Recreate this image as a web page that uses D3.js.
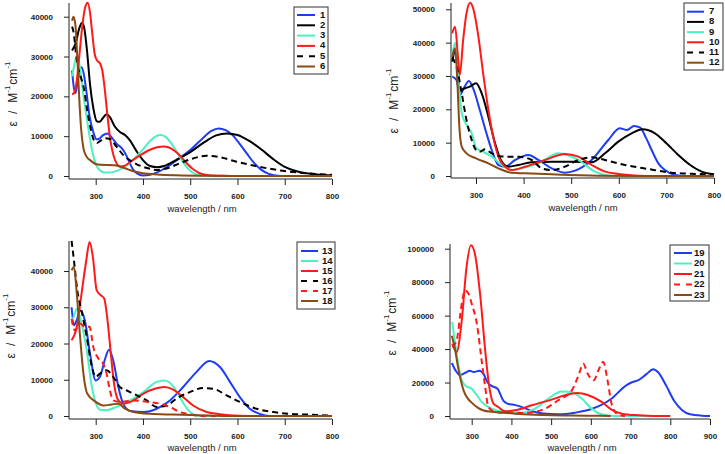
<!DOCTYPE html>
<html><head><meta charset="utf-8">
<script src="https://cdn.jsdelivr.net/npm/d3@7/dist/d3.min.js"></script>
<style>body{margin:0;background:#fff} svg{display:block;font-family:"Liberation Sans",Arial,sans-serif}</style>
</head><body><svg id="c" width="725" height="454"></svg>
<script>
// ---------- tick values ----------
const xTicksA = [300,400,500,600,700,800];
const xTicksB = [300,400,500,600,700,800,900];
const yTicks1 = [0,10000,20000,30000,40000];
const yTicks2 = [0,10000,20000,30000,40000,50000];
const yTicks3 = [0,10000,20000,30000,40000];
const yTicks4 = [0,20000,40000,60000,80000,100000];

// ---------- series: [wavelength nm, epsilon] ----------
const c1 = [[250,26500],[254,22000],[257,20800],[261,23000],[266,26500],[270,27300],[275,25500],[280,21500],[287,15000],[295,11000],[302,9200],[308,9400],[315,10200],[325,10700],[335,9500],[345,8000],[355,7000],[362,5800],[370,3800],[378,1800],[388,600],[400,150],[415,300],[430,900],[450,2200],[475,4300],[500,6500],[525,9300],[545,11300],[560,11900],[575,11500],[590,10200],[605,8000],[620,5600],[635,3300],[650,1600],[665,600],[680,150],[700,0],[800,0]];
const c2 = [[250,31500],[258,33500],[265,37000],[271,38500],[276,37000],[282,31000],[288,23000],[295,17000],[302,13800],[308,13600],[315,14500],[323,15500],[330,14800],[340,12500],[352,11000],[362,10300],[372,9000],[385,6500],[400,4000],[415,2500],[430,2200],[445,2500],[470,4000],[500,6000],[530,8500],[555,10200],[578,10700],[600,10300],[625,8800],[650,6700],[675,4300],[700,2300],[725,1200],[750,600],[775,300],[800,150]];
const c3 = [[250,25000],[255,28000],[261,30300],[267,27000],[273,21000],[280,15500],[287,10000],[294,5500],[300,3000],[308,1500],[318,900],[330,900],[345,1300],[360,2200],[380,4200],[400,6700],[415,8800],[428,10000],[437,10300],[447,9900],[460,8200],[475,5400],[490,2600],[503,1000],[515,300],[530,50],[550,0],[800,0]];
const c4 = [[250,20500],[255,21000],[260,24000],[266,31000],[272,38000],[278,42500],[283,43500],[288,41000],[293,35500],[298,30500],[303,29000],[309,28300],[314,26500],[319,22000],[325,15000],[331,9000],[338,5000],[345,3000],[352,2400],[360,2500],[375,3700],[395,5300],[415,6600],[430,7200],[445,7400],[460,6900],[475,5500],[490,3500],[505,1800],[520,700],[540,200],[570,50],[600,0],[800,0]];
const c5 = [[250,37500],[254,35500],[258,31000],[263,27000],[268,25000],[275,22000],[282,16500],[290,11500],[297,8800],[303,8300],[312,9000],[320,9500],[330,9300],[344,7400],[358,5300],[372,4000],[386,3000],[400,2300],[415,1800],[429,1500],[450,1900],[478,3200],[506,4400],[534,5100],[563,4700],[598,3600],[647,2300],[696,1300],[746,700],[800,300]];
const c6 = [[250,39000],[253,40000],[257,38000],[261,30000],[265,20000],[269,12000],[274,7000],[280,5000],[290,3800],[300,3000],[310,2800],[340,2700],[360,2000],[380,1200],[400,700],[430,400],[470,200],[550,50],[600,0],[800,0]];

const c7 = [[250,29800],[259,28800],[266,24300],[275,26500],[285,28500],[294,26300],[308,19800],[322,12800],[333,7800],[347,3300],[361,2800],[382,4800],[410,6300],[431,4800],[459,2300],[487,1000],[508,1600],[543,4800],[578,10800],[602,14300],[617,13800],[632,15000],[645,14500],[657,11500],[669,7800],[683,3800],[697,1800],[718,300],[739,0],[800,0]];
const c8 = [[250,34300],[257,37800],[262,31000],[266,25800],[277,26300],[287,26800],[300,27800],[312,24800],[326,17800],[340,9800],[354,4300],[368,2800],[389,3300],[417,4100],[459,4300],[501,4300],[543,4100],[571,6800],[599,10300],[627,12800],[650,14000],[676,12800],[700,9800],[725,6300],[750,3300],[774,1300],[800,500]];
const c9 = [[250,36000],[256,40000],[261,33000],[266,24000],[270,18800],[280,15300],[291,12800],[301,8300],[315,7300],[333,5800],[350,3800],[375,1800],[396,2300],[431,3800],[473,6800],[515,4800],[550,1300],[571,300],[590,0],[800,0]];
const c10 = [[250,42800],[256,44800],[262,36000],[266,30300],[273,40800],[280,48800],[288,52000],[294,50300],[305,41800],[315,30800],[326,19800],[336,11800],[347,5800],[361,2800],[375,1800],[403,2800],[445,4800],[487,6600],[515,5800],[543,3300],[571,1300],[599,600],[641,100],[680,0],[800,0]];
const c11 = [[250,35500],[259,32800],[270,24800],[280,16800],[291,10800],[300,7800],[308,7300],[319,8000],[333,6800],[361,5800],[389,5800],[417,4800],[438,2300],[459,1800],[487,2800],[515,4800],[543,5600],[571,4800],[613,3300],[662,2100],[711,1000],[767,600],[800,400]];
const c12 = [[250,35800],[256,38300],[261,27800],[265,14800],[270,8800],[280,6800],[300,5300],[326,3800],[347,2300],[375,1000],[403,800],[459,500],[557,100],[650,0],[800,0]];

const c13 = [[249,30000],[254,25000],[260,26500],[267,29100],[277,26400],[288,17200],[300,9800],[309,10800],[320,15800],[328,18300],[337,15400],[348,8000],[358,3400],[373,1400],[401,1100],[429,2000],[457,4300],[485,8000],[513,12100],[540,15200],[563,13500],[584,9400],[605,5200],[626,2000],[647,600],[668,0],[800,0]];
const c14 = [[249,25500],[255,28000],[260,29600],[270,25500],[281,18100],[292,8000],[302,2900],[309,1700],[323,1600],[344,2500],[373,4300],[401,6600],[429,9400],[446,9800],[464,8200],[482,4300],[496,1600],[506,500],[520,0],[800,0]];
const c15 = [[249,20900],[260,24600],[270,33700],[280,42900],[287,48000],[294,43900],[302,34700],[311,33300],[318,32400],[325,26400],[332,17200],[339,8700],[348,4300],[358,3400],[380,4300],[401,6200],[425,7500],[445,8000],[464,7300],[485,5200],[506,2900],[535,1100],[563,500],[605,100],[650,0],[800,0]];
const c16 = [[249,48300],[254,42900],[261,34700],[270,29100],[281,21800],[292,13500],[300,10800],[309,11700],[323,12600],[337,10800],[351,8000],[365,7100],[387,5700],[408,4300],[429,2500],[450,2900],[471,4800],[499,6600],[527,7700],[549,7500],[577,5700],[605,3900],[640,2000],[675,1100],[711,600],[746,400],[800,100]];
const c17 = [[249,26800],[256,23600],[267,25500],[277,24600],[287,24600],[295,19000],[306,15800],[316,14400],[323,11700],[330,7100],[337,4300],[351,3900],[380,4300],[408,3900],[436,3400],[457,2500],[478,1100],[499,500],[520,0],[600,0]];
const c18 = [[249,40200],[254,41100],[260,33700],[267,21800],[274,11700],[282,6200],[300,3900],[316,2900],[334,3200],[348,3400],[362,2000],[380,1100],[415,600],[464,400],[520,200],[591,0],[800,0]];

const c19 = [[250,31700],[260,27000],[270,24500],[285,26000],[295,27000],[305,26300],[320,27000],[330,25000],[340,20000],[350,18000],[365,16300],[380,9000],[390,7400],[410,6500],[430,5000],[450,3000],[480,1500],[520,1000],[560,2000],[600,4000],[650,10000],[690,18500],[705,20300],[720,21500],[740,25000],[757,28000],[770,26000],[790,18000],[810,9000],[830,3500],[850,1000],[880,200],[900,0]];
const c20 = [[251,56200],[262,37200],[275,21300],[287,17700],[300,16300],[313,12400],[325,8400],[350,4400],[384,2400],[426,2000],[459,4400],[493,10400],[527,14700],[552,14300],[577,10400],[602,4400],[627,1000],[661,0],[800,0]];
const c21 = [[251,43200],[262,38200],[275,57200],[287,89000],[298,102000],[308,97000],[321,73100],[334,39200],[342,21300],[355,7400],[367,5400],[384,2800],[409,3400],[451,6400],[501,9800],[535,12400],[565,13700],[594,12400],[627,8400],[652,3800],[678,1400],[720,400],[760,0],[800,0]];
const c22 = [[251,41200],[262,45200],[275,67100],[283,75100],[292,73100],[300,67100],[313,55200],[325,33300],[334,17300],[342,5400],[359,2400],[392,2000],[434,1800],[459,2400],[485,4400],[518,9400],[552,15300],[569,24300],[581,31300],[592,25300],[607,21300],[619,27300],[631,32300],[642,21300],[652,7400],[665,1400],[686,0]];
const c23 = [[250,48000],[258,40000],[265,30000],[272,22000],[280,15000],[290,10500],[300,8000],[315,5000],[330,3300],[350,2500],[380,2000],[420,1200],[480,600],[550,300],[620,100],[650,0]];

// ---------- drawing ----------
const BLUE="#1f3cf5", BLACK="#000000", TEAL="#4df0c0", RED="#ff1a1a", BROWN="#8b4a14";
const svg = d3.select("#c");
const FONT = '"Liberation Sans",Arial,sans-serif';

const panels = [
  {series:[["1",c1,BLUE,null],["2",c2,BLACK,null],["3",c3,TEAL,null],["4",c4,RED,null],["5",c5,BLACK,"6,4"],["6",c6,BROWN,null]],
   xd:[300,800], xr:[95.7,332], axL:69, axR:332, yd:[0,40000], yr:[176,16.7], yTop:3, axY:179, yt:yTicks1, xt:xTicksA,
   ytx:14, yty:94, xtx:202, xty:209, lg:{x:294,y:7,w:34,h:67,l0:297,l1:315,tx:320,r0:15,dr:10.3}},
  {series:[["7",c7,BLUE,null],["8",c8,BLACK,null],["9",c9,TEAL,null],["10",c10,RED,null],["11",c11,BLACK,"6,4"],["12",c12,BROWN,null]],
   xd:[300,800], xr:[476,714], axL:451, axR:714, yd:[0,50000], yr:[176,9.3], yTop:3, axY:178, yt:yTicks2, xt:xTicksA,
   ytx:395, yty:101, xtx:583, xty:208, lg:{x:684,y:3,w:39,h:67,l0:687,l1:704,tx:709,r0:11.7,dr:10.2}},
  {series:[["13",c13,BLUE,null],["14",c14,TEAL,null],["15",c15,RED,null],["16",c16,BLACK,"6,4"],["17",c17,RED,"6,4"],["18",c18,BROWN,null]],
   xd:[300,800], xr:[95.7,332], axL:69, axR:332, yd:[0,40000], yr:[416,271], yTop:241, axY:419, yt:yTicks3, xt:xTicksA,
   ytx:12, yty:326, xtx:202, xty:448, lg:{x:297,y:242,w:38,h:67,l0:301,l1:318,tx:322,r0:251,dr:10}},
  {series:[["19",c19,BLUE,null],["20",c20,TEAL,null],["21",c21,RED,null],["22",c22,RED,"6,4"],["23",c23,BROWN,null]],
   xd:[300,900], xr:[471.7,710], axL:450, axR:710, yd:[0,100000], yr:[416,248.7], yTop:244, axY:419, yt:yTicks4, xt:xTicksB,
   ytx:393, yty:323, xtx:582, xty:448, lg:{x:670,y:245,w:39,h:56,l0:674,l1:692,tx:694,r0:253,dr:10.5}}
];

panels.forEach(p => {
  const x = d3.scaleLinear().domain(p.xd).range(p.xr);
  const y = d3.scaleLinear().domain(p.yd).range(p.yr);
  const g = svg.append("g");

  g.append("line").attr("x1",p.axL).attr("x2",p.axL).attr("y1",p.yTop).attr("y2",p.axY).attr("stroke","#222").attr("stroke-width",1);
  g.append("line").attr("x1",p.axL).attr("x2",p.axR).attr("y1",p.axY).attr("y2",p.axY).attr("stroke","#222").attr("stroke-width",1);

  const ya = d3.axisLeft(y).tickValues(p.yt).tickSize(5).tickPadding(11).tickFormat(d3.format("d"));
  const yg = g.append("g").attr("transform",`translate(${p.axL},0)`).call(ya);
  yg.select(".domain").remove();
  yg.selectAll("line").attr("stroke","#222");
  yg.selectAll("text").attr("font-size","8px").attr("font-weight","bold").attr("font-family",FONT).attr("fill","#222");

  const xa = d3.axisBottom(x).tickValues(p.xt).tickSize(6).tickPadding(8).tickFormat(d3.format("d"));
  const xg = g.append("g").attr("transform",`translate(0,${p.axY})`).call(xa);
  xg.select(".domain").remove();
  xg.selectAll("line").attr("stroke","#222");
  xg.selectAll("text").attr("font-size","8px").attr("font-weight","bold").attr("font-family",FONT).attr("fill","#222");

  g.append("text").attr("x",p.xtx).attr("y",p.xty).attr("text-anchor","middle").attr("dominant-baseline","middle")
    .attr("font-size","9.5px").attr("font-family",FONT).attr("fill","#222").text("wavelength / nm");

  const yt = g.append("text").attr("transform",`translate(${p.ytx},${p.yty}) rotate(-90)`)
    .attr("text-anchor","middle").attr("dominant-baseline","middle").attr("font-size","12px").attr("font-family",FONT).attr("fill","#222");
  yt.append("tspan").text("ε");
  yt.append("tspan").attr("dx",7).text("/");
  yt.append("tspan").attr("dx",8).text("M");
  yt.append("tspan").attr("font-size","8px").attr("dy",-6).text("-1");
  yt.append("tspan").attr("dy",6).attr("dx",1).text("cm");
  yt.append("tspan").attr("font-size","8px").attr("dy",-6).text("-1");

  const line = d3.line().x(d=>x(d[0])).y(d=>y(d[1])).curve(d3.curveMonotoneX);
  p.series.forEach(s => {
    g.append("path").datum(s[1]).attr("d",line).attr("fill","none").attr("stroke",s[2])
     .attr("stroke-width",2).attr("stroke-dasharray",s[3]).attr("stroke-linejoin","round");
  });

  const L = p.lg;
  const lg = g.append("g");
  lg.append("rect").attr("x",L.x).attr("y",L.y).attr("width",L.w).attr("height",L.h).attr("fill","#fff").attr("stroke","#333").attr("stroke-width",1);
  p.series.forEach((s,i) => {
    const ry = L.r0 + i*L.dr;
    lg.append("line").attr("x1",L.l0).attr("x2",L.l1).attr("y1",ry).attr("y2",ry).attr("stroke",s[2]).attr("stroke-width",2)
      .attr("stroke-dasharray", s[3] ? "6,6" : null);
    lg.append("text").attr("x",L.tx).attr("y",ry).attr("dominant-baseline","middle").attr("font-size","9.5px")
      .attr("font-weight","bold").attr("font-family",FONT).attr("fill","#111").text(s[0]);
  });
});
</script></body></html>
